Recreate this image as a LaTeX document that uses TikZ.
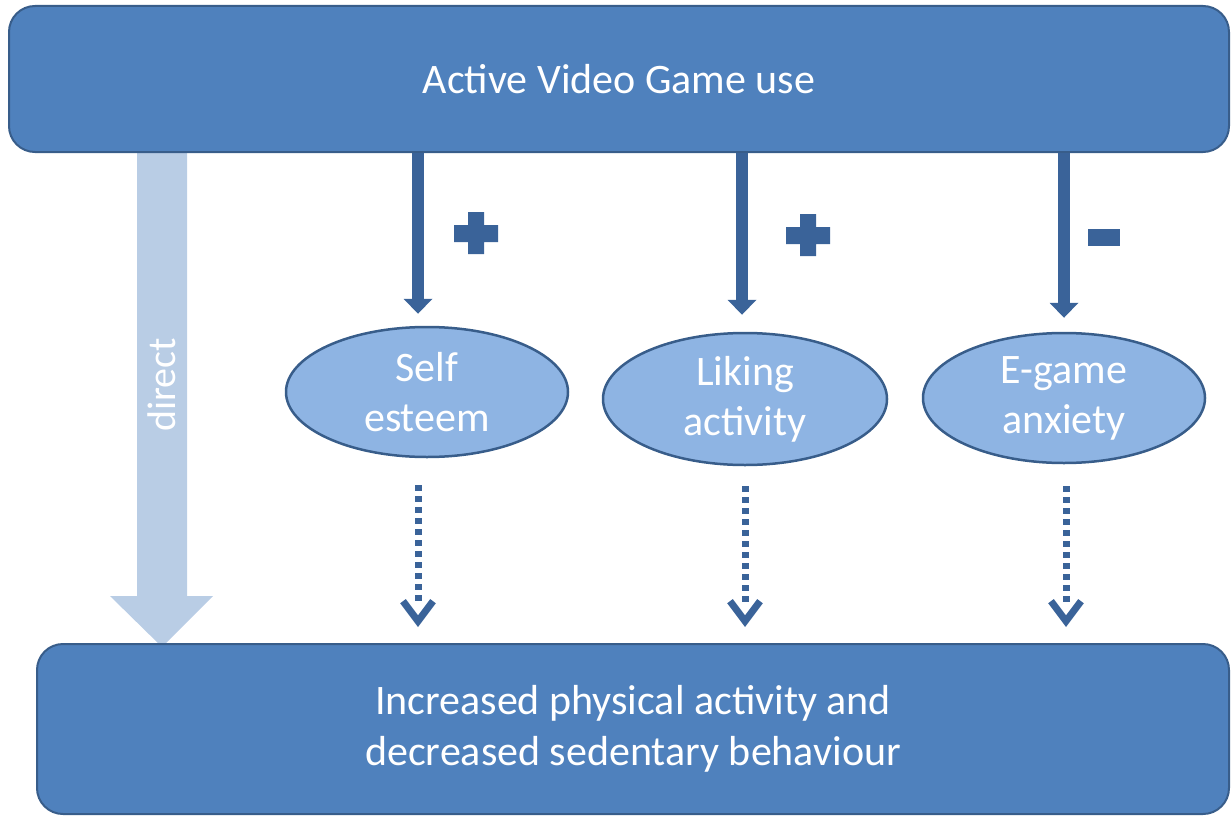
\documentclass[tikz,border=0pt]{standalone}
\usepackage{fontspec}
\setmainfont{Carlito}
\usetikzlibrary{arrows.meta,shapes.geometric,calc}

\definecolor{boxfill}{HTML}{4F81BD}
\definecolor{boxline}{HTML}{385D8A}
\definecolor{ellfill}{HTML}{8EB4E3}
\definecolor{arrowblue}{HTML}{3A6399}
\definecolor{directfill}{HTML}{B9CDE5}

\tikzset{
  bigbox/.style={rectangle, rounded corners=26pt, fill=boxfill, draw=boxline,
    line width=2pt, text=white, align=center, inner sep=0pt,
    font=\fontsize{42}{51}\selectfont},
  mediator/.style={ellipse, fill=ellfill, draw=boxline, line width=2.5pt,
    text=white, align=center, inner sep=0pt,
    font=\fontsize{42}{50}\selectfont},
  effect/.style={draw=arrowblue, line width=12pt,
    -{Triangle[width=29pt,length=15pt,line width=0pt]}},
  % square dots that stop just above the open head
  outcome/.style={draw=arrowblue, line width=7pt,
    dash pattern=on 6pt off 5pt on 6pt off 5pt on 6pt off 5pt on 6pt off 5pt
      on 6pt off 5pt on 6pt off 5pt on 6pt off 5pt on 6pt off 5pt
      on 6pt off 5pt on 6pt off 5pt on 6pt off 60pt,
    -{Straight Barb[width=30pt,length=20pt,line width=7pt]}},
  signmark/.style={fill=arrowblue}
}

\begin{document}
\begin{tikzpicture}[x=1pt,y=-1pt]
\useasboundingbox (0,0) rectangle (1231,816);

% direct path: broad light arrow from the top box to the bottom box
\fill[directfill] (137,151) -- (187,151) -- (187,596) -- (213,596)
  -- (162,647) -- (110,596) -- (137,596) -- cycle;
\node[rotate=90, text=white, font=\fontsize{40}{46}\selectfont] (directlbl) at (162,385) {direct};

% exposure and outcome
\node[bigbox, minimum width=1220pt, minimum height=146pt] (top) at (619,79)
  {Active Video Game use};
\node[bigbox, minimum width=1192pt, minimum height=170pt] (bottom) at (633,729)
  {Increased physical activity and\\decreased sedentary behaviour};

% mediators
\node[mediator, minimum width=282pt, minimum height=130pt] (se) at (427,392) {Self\\esteem};
\node[mediator, minimum width=284pt, minimum height=132pt] (la) at (745,399) {Liking\\activity};
\node[mediator, minimum width=282pt, minimum height=130pt] (ea) at (1064,398) {E-game\\anxiety};

% arrow columns
\coordinate (c1) at (418,0);
\coordinate (c2) at (742,0);
\coordinate (c3) at (1064,0);
\coordinate (d2) at (745,0);
\coordinate (d3) at (1066,0);

% effects of game use on mediators
\draw[effect, shorten >=12pt] (top.south -| c1) -- (se.north -| c1);
\draw[effect, shorten >=17pt] (top.south -| c2) -- (la.north -| c2);
\draw[effect, shorten >=14pt] (top.south -| c3) -- (ea.north -| c3);

% effects of mediators on behaviour
\draw[outcome, shorten <=27pt, shorten >=16pt] (se.south -| c1) -- (bottom.north -| c1);
\draw[outcome, shorten <=20pt, shorten >=16pt] (la.south -| d2) -- (bottom.north -| d2);
\draw[outcome, shorten <=22pt, shorten >=16pt] (ea.south -| d3) -- (bottom.north -| d3);

% signs of the effects
\fill[signmark] (454,225) rectangle (498,242) (468,212) rectangle (484,254);
\fill[signmark] (786,227) rectangle (830,244) (800,214) rectangle (816,256);
\fill[signmark] (1088,229) rectangle (1120,246);
\end{tikzpicture}
\end{document}
